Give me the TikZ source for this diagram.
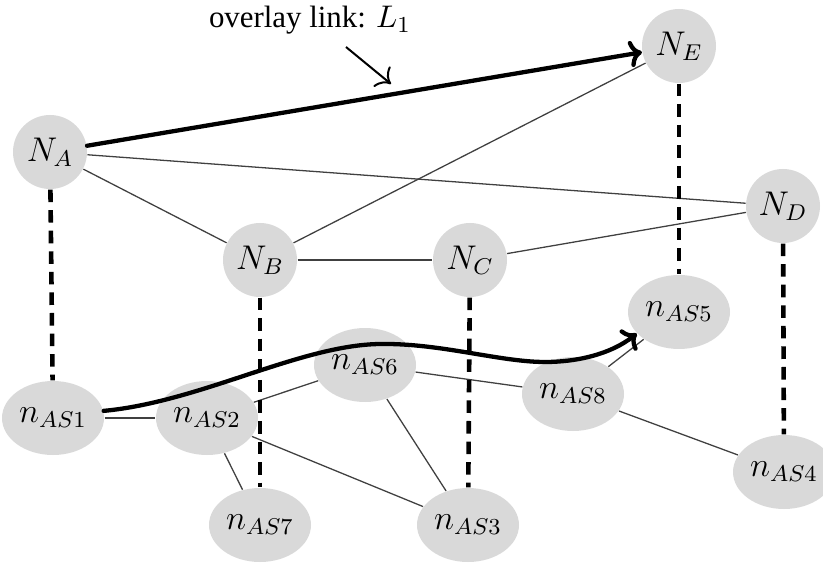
\documentclass[tikz,border=0pt]{standalone}
\usepackage[no-math]{fontspec}
\setmainfont{Liberation Serif}
\usetikzlibrary{shapes.geometric,arrows.meta}
\begin{document}
\begin{tikzpicture}[x=0.35pt,y=-0.35pt,
  bignode/.style={circle,fill=black!15,draw=none,minimum size=25.9pt,inner sep=0pt,font=\large},
  asnode/.style={ellipse,fill=black!15,draw=none,minimum width=35.7pt,minimum height=25.9pt,inner sep=0pt,font=\large},
  thinedge/.style={draw=black!75,line width=0.45pt},
  mapedge/.style={draw=black,line width=1.6pt,dash pattern=on 4.4pt off 2.8pt},
  overlay/.style={draw=black,line width=1.5pt,-{To[scale=0.9]},line cap=round},
  pointer/.style={draw=black,line width=0.7pt,-{To[scale=1.4]}}]
\useasboundingbox (0,0) rectangle (823,568);
% nodes
\node[bignode] (NA) at (50,152) {$N_A$};
\node[bignode] (NE) at (679,46) {$N_E$};
\node[bignode] (ND) at (783,206) {$N_D$};
\node[bignode] (NB) at (260,260) {$N_B$};
\node[bignode] (NC) at (470,260) {$N_C$};
\node[asnode] (n5) at (679,312) {$n_{AS5}$};
\node[asnode] (n6) at (365,365) {$n_{AS6}$};
\node[asnode] (n8) at (573,394) {$n_{AS8}$};
\node[asnode] (n1) at (53,418) {$n_{AS1}$};
\node[asnode] (n2) at (207,418) {$n_{AS2}$};
\node[asnode] (n4) at (784,472) {$n_{AS4}$};
\node[asnode] (n7) at (260,525) {$n_{AS7}$};
\node[asnode] (n3) at (468,525) {$n_{AS3}$};
% label
\node[font=\fontsize{10.8}{13}\selectfont,inner sep=0pt] (lbl) at (310,20) {overlay link: $L_1$};
\coordinate (ptrstart) at (346,47);
\coordinate (ptrend) at (391,84);
\draw[pointer] (ptrstart) -- (ptrend);
% upper thin edges
\draw[thinedge] (NA) -- (ND);
\draw[thinedge] (NA) -- (NB);
\draw[thinedge] (NB) -- (NE);
\draw[thinedge] (NB) -- (NC);
\draw[thinedge] (NC) -- (ND);
% lower thin edges
\draw[thinedge] (n1) -- (n2);
\draw[thinedge] (n2) -- (n6);
\draw[thinedge] (n2) -- (n7);
\draw[thinedge] (n2) -- (n3);
\draw[thinedge] (n6) -- (n3);
\draw[thinedge] (n6) -- (n8);
\draw[thinedge] (n8) -- (n5);
\draw[thinedge] (n8) -- (n4);
% mapping (dashed) edges
\draw[mapedge] (NA) -- (n1);
\draw[mapedge] (NB) -- (n7);
\draw[mapedge] (NC) -- (n3);
\draw[mapedge] (NE) -- (n5);
\draw[mapedge] (ND) -- (n4);
% overlay links
\draw[overlay] (NA) -- (NE);
\coordinate (w1) at (380,344);
\coordinate (w2) at (545,362);
\draw[overlay] (n1.8) .. controls (200,402) and (300,345) .. (w1)
  .. controls (440,343) and (500,362) .. (w2)
  .. controls (575,362) and (610,355) .. (n5.207);
\end{tikzpicture}
\end{document}
